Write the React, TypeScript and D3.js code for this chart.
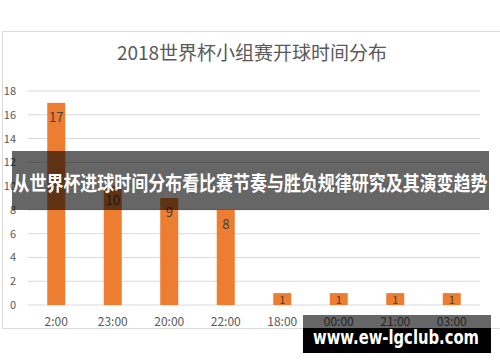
import React from "react";
import * as d3 from "d3";

const title = "2018世界杯小组赛开球时间分布";
const categories = ["2:00", "23:00", "20:00", "22:00", "18:00", "00:00", "21:00", "03:00"];
const values = [17, 10, 9, 8, 1, 1, 1, 1];
const yTicks = [0, 2, 4, 6, 8, 10, 12, 14, 16, 18];
const overlayText = "从世界杯进球时间分布看比赛节奏与胜负规律研究及其演变趋势";
const watermark = "www.ew-lgclub.com";

const W = 500;
const H = 362;
const font = "'Noto Sans CJK SC', 'Noto Sans', sans-serif";

export default function App() {
  const x = d3.scaleBand<string>().domain(categories).range([28, 480]).paddingInner(0.68).paddingOuter(0.34);
  const y = d3.scaleLinear().domain([0, 18]).range([305, 91]);
  const bw = 18;

  return (
    <svg width={W} height={H} style={{ position: "absolute", left: 0, top: 0, background: "#fff" }}>
      <rect x={0} y={0} width={W} height={H} fill="#fff" />
      {/* chart frame */}
      <rect x={2.5} y={31.5} width={W} height={297} fill="#fff" stroke="#d9d9d9" strokeWidth={1} />
      <text x={252} y={60} textAnchor="middle" fontFamily={font} fontSize={19} fill="#595959">
        {title}
      </text>
      {yTicks.map((t) => (
        <g key={t}>
          <line x1={28} x2={480} y1={y(t)} y2={y(t)} stroke="#d9d9d9" strokeWidth={1} />
          <text x={16} y={y(t) + 4} textAnchor="end" fontFamily={font} fontSize={11} fill="#595959">
            {t}
          </text>
        </g>
      ))}
      {categories.map((c, i) => {
        const cx = (x(c) as number) + x.bandwidth() / 2;
        const top = y(values[i]);
        const h = y(0) - top;
        const ly = h > 20 ? top + 19 : top + h / 2 + 4.5;
        return (
          <g key={c}>
            <rect x={cx - bw / 2} y={top} width={bw} height={h} fill="#ED7D31" />
            <text x={cx} y={ly} textAnchor="middle" fontFamily={font} fontSize={h > 20 ? 13 : 11} fill="#404040">
              {values[i]}
            </text>
            <text x={cx} y={326} textAnchor="middle" fontFamily={font} fontSize={12} fill="#595959">
              {c}
            </text>
          </g>
        );
      })}
      {/* overlay band */}
      <rect x={12} y={151} width={477} height={59} fill="rgba(0,0,0,0.6)" />
      <text
        x={250}
        y={191}
        textAnchor="middle"
        fontFamily={font}
        fontWeight="bold"
        fontSize={20.5}
        fill="#fff"
        textLength={475}
        lengthAdjust="spacingAndGlyphs"
      >
        {overlayText}
      </text>
      {/* watermark */}
      <rect x={303} y={315} width={188} height={13} fill="rgba(0,0,0,0.6)" />
      <rect x={303} y={328} width={188} height={25} fill="#000" />
      <text
        x={396}
        y={344}
        textAnchor="middle"
        fontFamily="'DejaVu Sans', 'Noto Sans', sans-serif"
        fontWeight="bold"
        fontSize={19}
        fill="#fff"
        textLength={166}
        lengthAdjust="spacingAndGlyphs"
      >
        {watermark}
      </text>
    </svg>
  );
}
